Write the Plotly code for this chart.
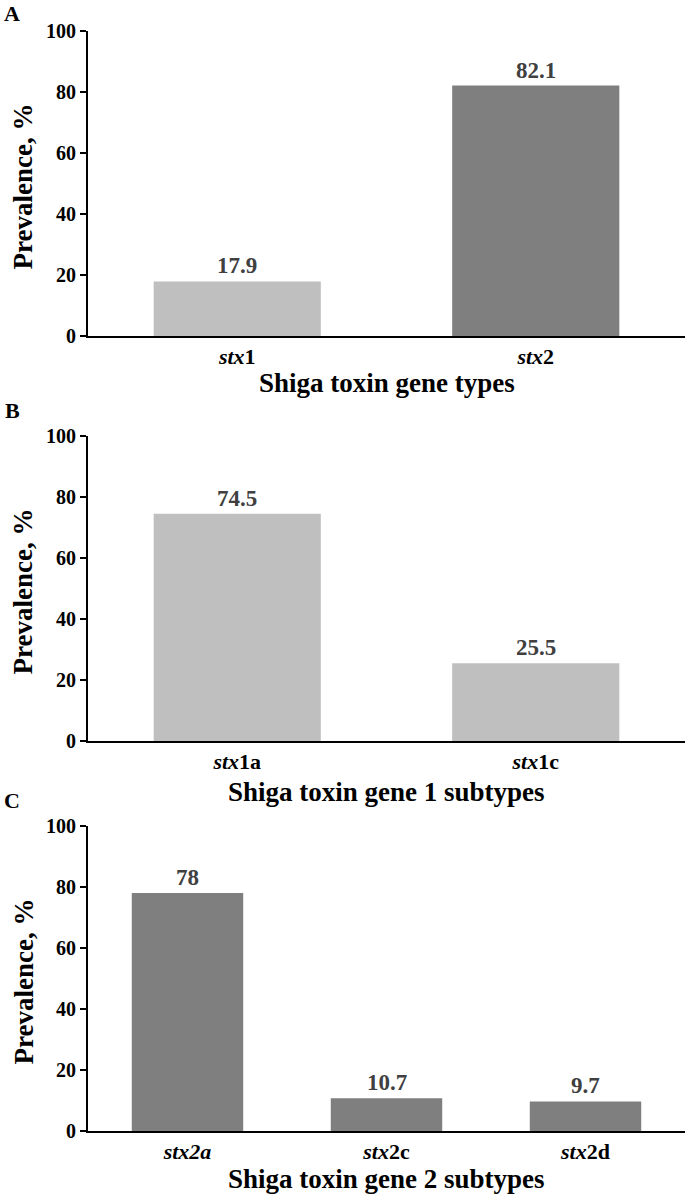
import plotly.graph_objects as go

# Data
cats_a = ["stx1", "stx2"]
labels_a = ["<i>stx</i>1", "<i>stx</i>2"]
vals_a = [17.9, 82.1]
colors_a = ["#BFBFBF", "#7F7F7F"]

cats_b = ["stx1a", "stx1c"]
labels_b = ["<i>stx</i>1a", "<i>stx</i>1c"]
vals_b = [74.5, 25.5]
colors_b = ["#BFBFBF", "#BFBFBF"]

cats_c = ["stx2a", "stx2c", "stx2d"]
labels_c = ["<i>stx2a</i>", "<i>stx</i>2c", "<i>stx</i>2d"]
vals_c = [78, 10.7, 9.7]
colors_c = ["#7F7F7F", "#7F7F7F", "#7F7F7F"]

xtitles = ["Shiga toxin gene types", "Shiga toxin gene 1 subtypes", "Shiga toxin gene 2 subtypes"]
ytitle = "Prevalence, %"
panel_letters = ["A", "B", "C"]
yticks = [0, 20, 40, 60, 80, 100]

W, H = 685, 1195
FONT = "Liberation Serif, Times New Roman, serif"
X0 = 88

def py(p):
    return 1 - p / H

panels = [
    (cats_a, labels_a, vals_a, colors_a, (31, 336), 383),
    (cats_b, labels_b, vals_b, colors_b, (436, 741), 792),
    (cats_c, labels_c, vals_c, colors_c, (826, 1131), 1179),
]
letter_pos = [(12, 14), (12, 410), (12, 800)]

fig = go.Figure()
layout = dict(
    width=W, height=H,
    margin=dict(l=0, r=0, t=0, b=0),
    paper_bgcolor="white", plot_bgcolor="white",
    showlegend=False,
    font=dict(family=FONT, color="black"),
)
annotations = []
for i, (cats, labels, vals, cols, (top, bot), xt_y) in enumerate(panels):
    n = i + 1
    xa = "x" if n == 1 else f"x{n}"
    ya = "y" if n == 1 else f"y{n}"
    fig.add_trace(go.Bar(
        x=cats, y=vals, marker=dict(color=cols, line=dict(width=0)),
        width=0.56, xaxis=xa, yaxis=ya, hoverinfo="skip",
    ))
    xkey = "xaxis" if n == 1 else f"xaxis{n}"
    ykey = "yaxis" if n == 1 else f"yaxis{n}"
    layout[xkey] = dict(
        domain=[X0 / W, 1.0], anchor=ya, automargin=False,
        type="category", categoryorder="array", categoryarray=cats,
        tickmode="array", tickvals=cats, ticktext=[f"<b>{t}</b>" for t in labels],
        range=[-0.5, len(cats) - 0.5],
        showline=True, linecolor="black", linewidth=2,
        ticks="", showgrid=False, zeroline=False,
        tickfont=dict(family=FONT, size=22, color="black"),
    )
    layout[ykey] = dict(
        domain=[py(bot), py(top)], anchor=xa, automargin=False,
        range=[0, 100], tickmode="array", tickvals=yticks,
        ticktext=[f"<b>{t}</b>" for t in yticks],
        showline=True, linecolor="black", linewidth=2,
        ticks="outside", ticklen=6, tickwidth=2, tickcolor="black",
        showgrid=False, zeroline=False,
        tickfont=dict(family=FONT, size=20, color="black"),
    )
    for c, v in zip(cats, vals):
        annotations.append(dict(
            x=c, y=v, xref=xa, yref=ya, text=f"<b>{v:g}</b>",
            showarrow=False, yanchor="bottom", yshift=1,
            font=dict(family=FONT, size=23, color="#404040"),
        ))
    # x-axis title
    annotations.append(dict(
        x=(X0 / W + 1) / 2, y=py(xt_y), xref="paper", yref="paper",
        text=f"<b>{xtitles[i]}</b>", showarrow=False,
        xanchor="center", yanchor="middle",
        font=dict(family=FONT, size=27, color="black"),
    ))
    # y-axis title
    annotations.append(dict(
        x=23 / W, y=py((top + bot) / 2 + 3), xref="paper", yref="paper",
        text=f"<b>{ytitle}</b>", showarrow=False, textangle=-90,
        xanchor="center", yanchor="middle",
        font=dict(family=FONT, size=27, color="black"),
    ))
    lx, ly = letter_pos[i]
    annotations.append(dict(
        x=lx / W, y=py(ly), xref="paper", yref="paper",
        text=f"<b>{panel_letters[i]}</b>", showarrow=False,
        xanchor="center", yanchor="middle",
        font=dict(family=FONT, size=22, color="black"),
    ))

layout["annotations"] = annotations
fig.update_layout(**layout)
fig.write_html(
    "out.html",
    config={"displayModeBar": False},
    post_script="document.body.style.margin='0';document.body.style.overflow='hidden';",
)
